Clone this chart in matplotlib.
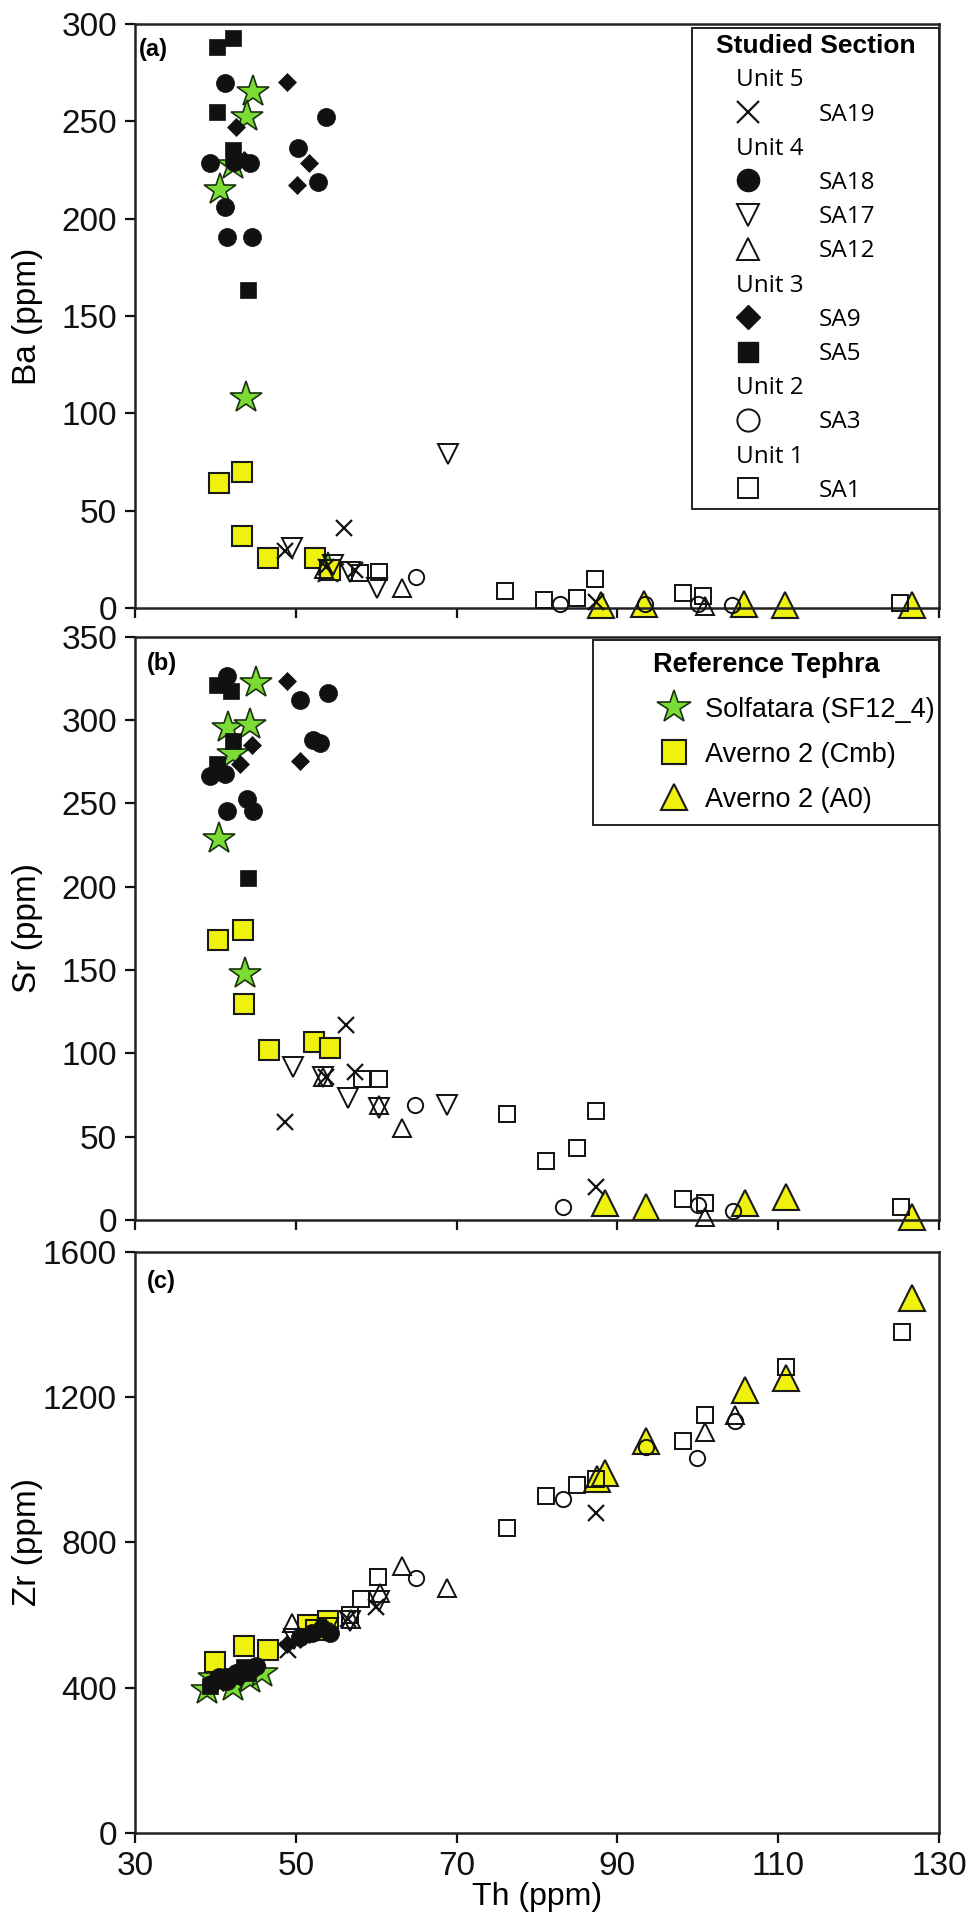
import matplotlib
matplotlib.use("Agg")
import matplotlib.pyplot as plt
from matplotlib.lines import Line2D
from matplotlib.legend_handler import HandlerLine2D
from matplotlib.font_manager import FontProperties

plt.rcParams['font.family'] = ['Liberation Sans', 'DejaVu Sans']

# ---------------- data ----------------
x_ticks = [30, 50, 70, 90, 110, 130]
ba_ticks = [0, 50, 100, 150, 200, 250, 300]
sr_ticks = [0, 50, 100, 150, 200, 250, 300, 350]
zr_ticks = [0, 400, 800, 1200, 1600]

# Panel (a): Th vs Ba
a_sa19_th = [48.7, 53.8, 56.0, 57.4, 87.3]
a_sa19 = [29, 21, 41, 19.5, 3]
a_sa18_th = [41.2, 53.8, 50.3, 52.8, 39.3, 44.3, 41.2, 41.4, 44.5, 42.3]
a_sa18 = [269.5, 252.3, 236.1, 219, 228.4, 228.4, 206.1, 190.7, 190.7, 229]
a_sa17_th = [49.5, 54.6, 56.7, 60.1, 68.9]
a_sa17 = [30.7, 22, 18.4, 10.1, 79]
a_sa12_th = [53.5, 63.2, 100.9]
a_sa12 = [20, 10, 1]
a_sa9_th = [48.9, 51.6, 50.1, 42.6, 43.5]
a_sa9 = [270.3, 228.4, 217.3, 247.2, 230]
a_sa5_th = [40.2, 42.2, 40.2, 42.2, 44.0]
a_sa5 = [288.3, 292.6, 254.9, 235.2, 163.5]
a_sa3_th = [65.0, 82.8, 93.4, 100.0, 104.3]
a_sa3 = [15.8, 2, 2, 2, 1.5]
a_sa1_th = [58.0, 60.3, 76.0, 80.9, 85.0, 87.2, 98.2, 100.7, 125.2]
a_sa1 = [17.8, 18.6, 8.9, 4, 5, 14.8, 7.9, 5.9, 2.6]
a_solf_th = [44.7, 43.9, 42.2, 40.6, 43.75, 54.0]
a_solf = [265.2, 252.3, 227.5, 214.7, 108, 20]
a_cmb_th = [40.4, 43.3, 43.3, 46.6, 52.4, 54.3]
a_cmb = [64, 70, 37, 25.5, 25.5, 19.5]
a_a0_th = [88.0, 93.3, 105.7, 110.9, 126.6]
a_a0 = [1.5, 2, 2, 1.5, 1.5]

# Panel (b): Th vs Sr
b_sa19_th = [48.7, 56.25, 57.4, 53.75, 87.3]
b_sa19 = [59, 117, 89, 86, 20]
b_sa18_th = [41.4, 50.5, 54.0, 52.2, 53.0, 39.3, 41.2, 41.4, 43.9, 44.7]
b_sa18 = [326.3, 312.4, 316.4, 288.4, 286.4, 266.5, 267.5, 245.5, 252.5, 245.5]
b_sa17_th = [49.7, 53.4, 56.5, 60.3, 68.8]
b_sa17 = [91.8, 85.8, 72.9, 66.9, 68.9]
b_sa12_th = [53.4, 60.3, 63.2, 100.9]
b_sa12 = [86, 69, 54.9, 1.5]
b_sa9_th = [48.9, 50.5, 43.1, 44.5]
b_sa9 = [323.4, 275.4, 273.5, 285.4]
b_sa5_th = [40.2, 42.0, 40.2, 42.2, 44.0]
b_sa5 = [321.4, 317.4, 273.5, 287.4, 205]
b_sa3_th = [64.8, 83.2, 100.0, 104.4]
b_sa3 = [68.9, 7.9, 9, 5.5]
b_sa1_th = [58.2, 60.3, 76.3, 81.1, 85.0, 87.3, 98.2, 100.9, 125.3]
b_sa1 = [84.8, 84.8, 63.8, 35.3, 43.2, 65.5, 12.4, 10, 7.9]
b_solf_th = [45.1, 41.6, 44.3, 42.2, 40.4, 43.7]
b_solf = [322.4, 295.4, 297.4, 280, 228.6, 147.8]
b_cmb_th = [40.3, 43.4, 43.5, 46.7, 52.3, 54.3]
b_cmb = [167.9, 174, 129.7, 102, 107, 103]
b_a0_th = [88.4, 93.5, 105.9, 111.0, 126.6]
b_a0 = [10, 7.9, 10.3, 13.5, 2]

# Panel (c): Th vs Zr
c_sa19_th = [49.0, 53.5, 56.5, 60.0, 87.3]
c_sa19 = [505, 555, 590, 622, 881]
c_sa18_th = [39.5, 40.5, 41.5, 42.5, 44.0, 45.0, 50.5, 52.0, 53.3, 54.2]
c_sa18 = [410, 430, 418, 440, 445, 460, 540, 552, 565, 550]
c_sa17_th = [49.8, 54.0, 56.7, 60.3]
c_sa17 = [535, 565, 585, 640]
c_sa12_th = [49.5, 56.9, 60.5, 63.2, 68.8, 100.9, 104.6]
c_sa12 = [578, 588, 661, 734, 674, 1103, 1150]
c_sa9_th = [41.0, 43.0, 44.8, 48.9, 50.5, 51.6]
c_sa9 = [415, 430, 448, 520, 535, 548]
c_sa5_th = [39.3, 40.3, 42.0, 43.5, 44.0]
c_sa5 = [405, 420, 432, 458, 442]
c_sa3_th = [64.9, 83.2, 93.5, 99.9, 104.6]
c_sa3 = [702, 921, 1064, 1032, 1134]
c_sa1_th = [56.8, 58.1, 60.2, 76.3, 81.1, 85.0, 87.3, 98.2, 100.9, 111.0, 125.4]
c_sa1 = [600, 644, 706, 839, 929, 957, 976, 1079, 1150, 1284, 1379]
c_solf_th = [38.9, 39.8, 42.2, 44.3, 45.8]
c_solf = [394, 428, 403, 425, 440]
c_cmb_th = [40.0, 43.5, 46.6, 51.5, 54.0, 52.5]
c_cmb = [472, 514, 505, 572, 585, 560]
c_a0_th = [87.5, 88.4, 93.5, 105.9, 111.0, 126.6]
c_a0 = [975, 992, 1079, 1221, 1253, 1474]

units = [("Unit 5", ["SA19"]), ("Unit 4", ["SA18", "SA17", "SA12"]),
         ("Unit 3", ["SA9", "SA5"]), ("Unit 2", ["SA3"]), ("Unit 1", ["SA1"])]
ref_names = ["Solfatara (SF12_4)", "Averno 2 (Cmb)", "Averno 2 (A0)"]

# ---------------- styles ----------------
BLK = "#111111"
GREEN = "#7bdc36"
YEL = "#eef20c"
style = {
    "SA19": dict(marker="x", ms=11, mec=BLK, mew=1.6),
    "SA18": dict(marker="o", ms=13, mfc=BLK, mec=BLK, mew=0.5),
    "SA17": dict(marker="v", ms=14, mfc="none", mec=BLK, mew=1.4),
    "SA12": dict(marker="^", ms=13, mfc="none", mec=BLK, mew=1.4),
    "SA9": dict(marker="D", ms=9.5, mfc=BLK, mec=BLK, mew=0.5),
    "SA5": dict(marker="s", ms=11, mfc=BLK, mec=BLK, mew=0.5),
    "SA3": dict(marker="o", ms=11, mfc="none", mec=BLK, mew=1.4),
    "SA1": dict(marker="s", ms=12, mfc="none", mec=BLK, mew=1.4),
    "Solfatara (SF12_4)": dict(marker="*", ms=24, mfc=GREEN, mec="#1c3310", mew=1.2),
    "Averno 2 (Cmb)": dict(marker="s", ms=15, mfc=YEL, mec="#1a1a1a", mew=1.5),
    "Averno 2 (A0)": dict(marker="^", ms=19, mfc=YEL, mec="#1a1a1a", mew=1.5),
}
leg_style = {
    "SA19": dict(marker="x", ms=16, mec=BLK, mew=1.6),
    "SA18": dict(marker="o", ms=16, mfc=BLK, mec=BLK),
    "SA17": dict(marker="v", ms=16, mfc="none", mec=BLK, mew=1.4),
    "SA12": dict(marker="^", ms=16, mfc="none", mec=BLK, mew=1.4),
    "SA9": dict(marker="D", ms=12, mfc=BLK, mec=BLK),
    "SA5": dict(marker="s", ms=15, mfc=BLK, mec=BLK),
    "SA3": dict(marker="o", ms=16, mfc="none", mec=BLK, mew=1.4),
    "SA1": dict(marker="s", ms=15, mfc="none", mec=BLK, mew=1.4),
    "Solfatara (SF12_4)": dict(marker="*", ms=25, mfc=GREEN, mec="#1c3310", mew=1.2),
    "Averno 2 (Cmb)": dict(marker="s", ms=17, mfc=YEL, mec="#1a1a1a", mew=1.5),
    "Averno 2 (A0)": dict(marker="^", ms=19, mfc=YEL, mec="#1a1a1a", mew=1.5),
}

panels = [
    dict(ref=[(a_solf_th, a_solf), (a_cmb_th, a_cmb), (a_a0_th, a_a0)],
         sec={"SA19": (a_sa19_th, a_sa19), "SA18": (a_sa18_th, a_sa18), "SA17": (a_sa17_th, a_sa17),
              "SA12": (a_sa12_th, a_sa12), "SA9": (a_sa9_th, a_sa9), "SA5": (a_sa5_th, a_sa5),
              "SA3": (a_sa3_th, a_sa3), "SA1": (a_sa1_th, a_sa1)},
         ylim=(0, 300), yticks=ba_ticks, ylabel="Ba (ppm)", tag="(a)", tagx=0.005, tagy=0.957),
    dict(ref=[(b_solf_th, b_solf), (b_cmb_th, b_cmb), (b_a0_th, b_a0)],
         sec={"SA19": (b_sa19_th, b_sa19), "SA18": (b_sa18_th, b_sa18), "SA17": (b_sa17_th, b_sa17),
              "SA12": (b_sa12_th, b_sa12), "SA9": (b_sa9_th, b_sa9), "SA5": (b_sa5_th, b_sa5),
              "SA3": (b_sa3_th, b_sa3), "SA1": (b_sa1_th, b_sa1)},
         ylim=(0, 350), yticks=sr_ticks, ylabel="Sr (ppm)", tag="(b)", tagx=0.015, tagy=0.955),
    dict(ref=[(c_solf_th, c_solf), (c_cmb_th, c_cmb), (c_a0_th, c_a0)],
         sec={"SA19": (c_sa19_th, c_sa19), "SA18": (c_sa18_th, c_sa18), "SA17": (c_sa17_th, c_sa17),
              "SA12": (c_sa12_th, c_sa12), "SA9": (c_sa9_th, c_sa9), "SA5": (c_sa5_th, c_sa5),
              "SA3": (c_sa3_th, c_sa3), "SA1": (c_sa1_th, c_sa1)},
         ylim=(0, 1600), yticks=zr_ticks, ylabel="Zr (ppm)", tag="(c)", tagx=0.015, tagy=0.950),
]

fig = plt.figure(figsize=(9.74, 19.19), dpi=100)
rects = [(0.1386, 0.6832, 0.8255, 0.3043),
         (0.1386, 0.3643, 0.8255, 0.3038),
         (0.1386, 0.0448, 0.8255, 0.3028)]
axes = []
for rect, p in zip(rects, panels):
    ax = fig.add_axes(rect)
    axes.append(ax)
    for name, (xs, ys) in zip(ref_names, p["ref"]):
        ax.plot(xs, ys, linestyle="none", zorder=2, clip_on=False, **style[name])
    for name in ["SA1", "SA3", "SA12", "SA17", "SA19", "SA5", "SA9", "SA18"]:
        xs, ys = p["sec"][name]
        ax.plot(xs, ys, linestyle="none", zorder=3, clip_on=False, **style[name])
    ax.set_xlim(30, 130)
    ax.set_ylim(*p["ylim"])
    ax.set_xticks(x_ticks)
    ax.set_yticks(p["yticks"])
    for s in ax.spines.values():
        s.set_linewidth(1.8)
        s.set_color("#222222")
    ax.tick_params(direction="out", length=7, width=1.6, labelsize=24, pad=6, colors="#111111")
    ax.set_ylabel(p["ylabel"], fontsize=24)
    ax.yaxis.set_label_coords(-0.114, 0.5)
    ax.text(p["tagx"], p["tagy"], p["tag"], transform=ax.transAxes, fontsize=17,
            fontweight="bold", va="center", ha="left")
    ax.tick_params(labelbottom=False)

axes[2].tick_params(labelbottom=True)
axes[2].set_xlabel("Th (ppm)", fontsize=23, labelpad=0)

# ---- legend 1: Studied Section ----
fp1 = FontProperties(family="Open Sans", size=17.5)
h1, l1 = [], []
for unit, members in units:
    h1.append(Line2D([], [], linestyle="none", marker="None"))
    l1.append(unit)
    for m in members:
        h1.append(Line2D([], [], linestyle="none", **leg_style[m]))
        l1.append(m)
leg1 = axes[0].legend(h1, l1, loc="upper right", bbox_to_anchor=(0.693, 0, 0.307, 0.993),
                      mode="expand", borderaxespad=0, title="Studied Section",
                      title_fontproperties=FontProperties(family="Liberation Sans", weight="bold", size=19),
                      prop=fp1, fancybox=False, edgecolor="#222222", framealpha=1,
                      borderpad=0.25, labelspacing=0.42, handlelength=4.1, handletextpad=0.86,
                      handler_map={Line2D: HandlerLine2D(numpoints=1)})
leg1.get_frame().set_linewidth(1.4)
leg1.set_zorder(10)
for t in leg1.get_texts():
    if t.get_text().startswith("Unit"):
        t.set_x(-83)

# ---- legend 2: Reference Tephra ----
h2 = [Line2D([], [], linestyle="none", **leg_style[n]) for n in ref_names]
leg2 = axes[1].legend(h2, ref_names, loc="upper right", bbox_to_anchor=(0.5697, 0, 0.4303, 0.995),
                      mode="expand", borderaxespad=0, title="Reference Tephra",
                      title_fontproperties=FontProperties(family="Liberation Sans", weight="bold", size=19.5),
                      prop=FontProperties(family="Liberation Sans", size=19.5),
                      fancybox=False, edgecolor="#222222", framealpha=1,
                      borderpad=0.45, labelspacing=0.7, handlelength=3.5, handletextpad=0.2,
                      handler_map={Line2D: HandlerLine2D(numpoints=1, xpad=1.6)})
leg2.get_frame().set_linewidth(1.4)
leg2.set_zorder(10)

fig.savefig("out.png", dpi=100)
